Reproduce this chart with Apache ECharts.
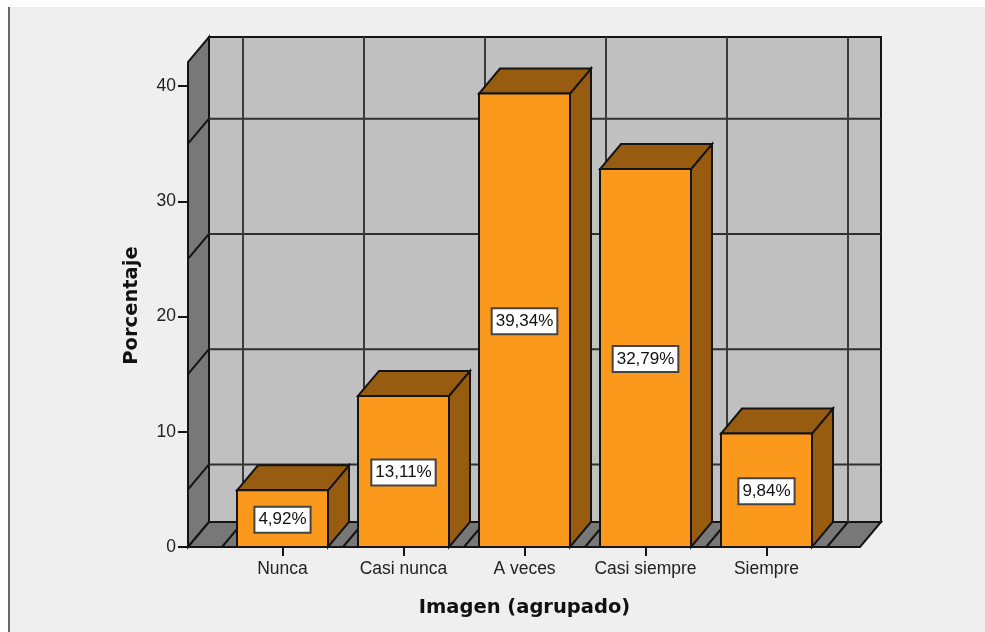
<!DOCTYPE html>
<html>
<head>
<meta charset="utf-8">
<style>html,body{margin:0;padding:0;background:#fff}#c{width:985px;height:632px}</style>
<script src="https://cdn.jsdelivr.net/npm/echarts@6/dist/echarts.min.js"></script>
</head>
<body>
<div id="c"></div>
<script>
const categories = ['Nunca', 'Casi nunca', 'A veces', 'Casi siempre', 'Siempre'];
const percentages = [4.92, 13.11, 39.34, 32.79, 9.84];
const percentLabels = ['4,92%', '13,11%', '39,34%', '32,79%', '9,84%'];
const wallGridValues = [5, 15, 25, 35];
const wallTopValue = 42.08;

const depthX = 21, depthY = -25, padL = 34, padR = 33, barRatio = 0.752;
const lineCol = '#141414', sideGrey = '#787878', backGrey = '#c0c0c0';
const barFront = '#fb991c', barDark = '#985c10';
const LW = 2;

function poly(points, fill, z) {
  return { type: 'polygon', z2: z || 0, shape: { points }, style: { fill, stroke: lineCol, lineWidth: LW, lineJoin: 'miter' } };
}
function seg(x1, y1, x2, y2, w, col) {
  return { type: 'line', shape: { x1, y1, x2, y2 }, style: { stroke: col || lineCol, lineWidth: w || LW } };
}

function renderRoom(params, api) {
  const band = api.size([1, 0])[0];
  const first = api.coord([0, 0]);
  const last = api.coord([categories.length - 1, 0]);
  const y0 = first[1];
  const bandL = first[0] - band / 2;
  const xL = bandL - padL;
  const xR = last[0] + band / 2 + padR;
  const yT = api.coord([0, wallTopValue])[1];
  const kids = [];
  kids.push(poly([[xL + depthX, yT + depthY], [xR + depthX, yT + depthY], [xR + depthX, y0 + depthY], [xL + depthX, y0 + depthY]], backGrey));
  kids.push(poly([[xL, yT], [xL + depthX, yT + depthY], [xL + depthX, y0 + depthY], [xL, y0]], sideGrey));
  kids.push(poly([[xL, y0], [xL + depthX, y0 + depthY], [xR + depthX, y0 + depthY], [xR, y0]], sideGrey));
  wallGridValues.forEach(function (v) {
    const y = api.coord([0, v])[1];
    kids.push(seg(xL, y, xL + depthX, y + depthY));
    kids.push(seg(xL + depthX, y + depthY, xR + depthX, y + depthY, 2, '#2e2e2e'));
  });
  for (let i = 0; i <= categories.length; i++) {
    const x = bandL + band * i;
    kids.push(seg(x, y0, x + depthX, y0 + depthY));
    kids.push(seg(x + depthX, y0 + depthY, x + depthX, yT + depthY, 2, '#3a3a3a'));
  }
  return { type: 'group', children: kids };
}

function renderBar(params, api) {
  const i = api.value(0), v = api.value(1);
  const band = api.size([1, 0])[0];
  const base = api.coord([i, 0]);
  const top = api.coord([i, v]);
  const w = band * barRatio;
  const l = base[0] - w / 2, r = base[0] + w / 2, y0 = base[1], y1 = top[1];
  return {
    type: 'group',
    children: [
      poly([[r, y1], [r + depthX, y1 + depthY], [r + depthX, y0 + depthY], [r, y0]], barDark),
      poly([[l, y1], [l + depthX, y1 + depthY], [r + depthX, y1 + depthY], [r, y1]], barDark),
      poly([[l, y1], [r, y1], [r, y0], [l, y0]], barFront),
      {
        type: 'text',
        x: base[0], y: (y0 + y1) / 2 + 1,
        style: {
          text: percentLabels[i], align: 'center', verticalAlign: 'middle',
          font: '17px "Liberation Sans", Arial, sans-serif', fill: '#111',
          backgroundColor: '#fff', borderColor: '#444', borderWidth: 2,
          padding: [4, 3, 3, 3]
        }
      }
    ]
  };
}

const chart = echarts.init(document.getElementById('c'), null, { renderer: 'canvas' });
chart.setOption({
  animation: false,
  backgroundColor: '#efefef',
  graphic: [
    { type: 'rect', z: -1, shape: { x: 0, y: 0, width: 985, height: 7 }, style: { fill: '#fff' } },
    { type: 'rect', z: -1, shape: { x: 0, y: 0, width: 8, height: 632 }, style: { fill: '#fff' } },
    { type: 'rect', z: -1, shape: { x: 8, y: 7, width: 2, height: 625 }, style: { fill: '#6a6a6a' } }
  ],
  grid: { left: 222, width: 605, top: 86, height: 461, containLabel: false },
  xAxis: {
    type: 'category',
    data: categories,
    axisLine: { show: false },
    axisTick: { show: true, alignWithLabel: true, length: 9, lineStyle: { color: lineCol, width: 2 } },
    axisLabel: { color: '#222', fontFamily: 'Liberation Sans', fontSize: 17.5, margin: 13, interval: 0 },
    name: 'Imagen (agrupado)',
    nameLocation: 'middle',
    nameGap: 51,
    nameTextStyle: { color: '#111', fontFamily: 'DejaVu Sans', fontWeight: 'bold', fontSize: 19.5 }
  },
  yAxis: {
    type: 'value',
    min: 0, max: 40, interval: 10,
    offset: 34,
    splitLine: { show: false },
    axisLine: { show: false },
    axisTick: { show: true, length: 10, lineStyle: { color: lineCol, width: 2 } },
    axisLabel: { color: '#222', fontFamily: 'Liberation Sans', fontSize: 17.5, margin: 12 },
    name: 'Porcentaje',
    nameLocation: 'middle',
    nameRotate: 90,
    nameGap: 46,
    nameTextStyle: { color: '#111', fontFamily: 'DejaVu Sans', fontWeight: 'bold', fontSize: 19.5, padding: [0, 0, 0, 22] }
  },
  series: [
    { type: 'custom', name: 'room', z: 1, clip: false, silent: true, renderItem: renderRoom, data: [[0, 0]], encode: { x: 0, y: 1 } },
    { type: 'custom', name: 'Porcentaje', z: 2, clip: false, renderItem: renderBar,
      data: percentages.map(function (v, i) { return [i, v]; }), encode: { x: 0, y: 1 } }
  ]
});
</script>
</body>
</html>
